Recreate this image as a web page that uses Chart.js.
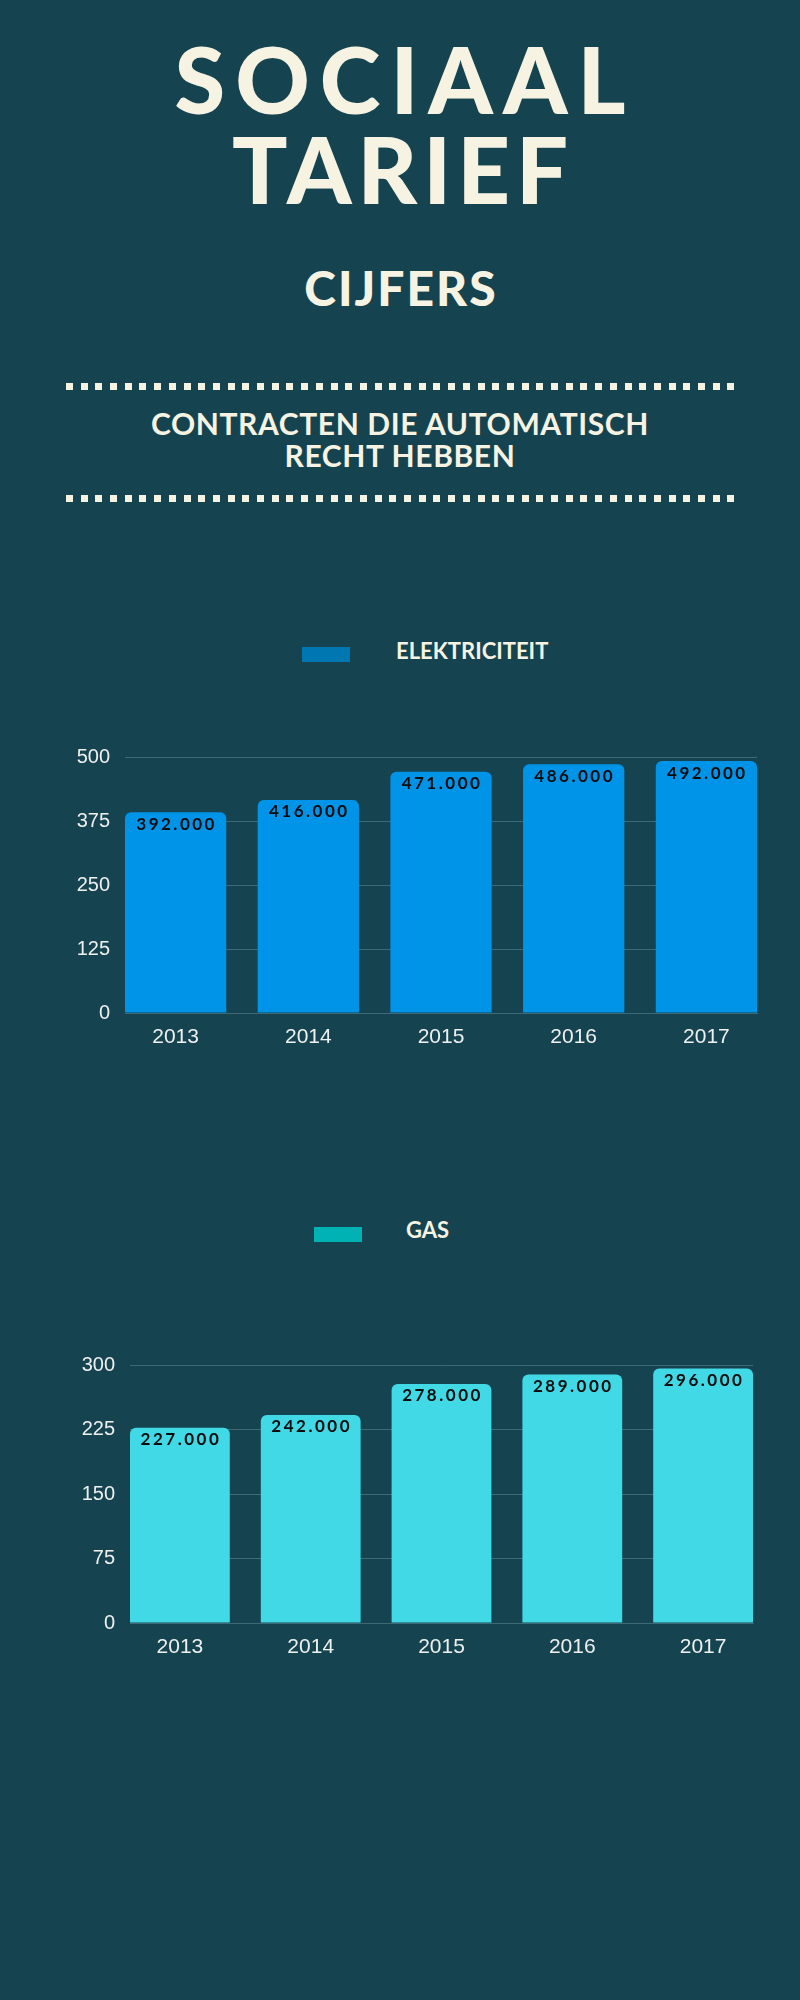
<!DOCTYPE html>
<html>
<head>
<meta charset="utf-8">
<script src="https://cdn.jsdelivr.net/npm/chart.js@4.4.1/dist/chart.umd.min.js"></script>
<style>
  html, body { margin: 0; padding: 0; }
  body { width: 800px; height: 2000px; background: #15434f; position: relative; overflow: hidden;
         font-family: Lato, "Noto Sans", sans-serif; color: #f7f3e3; }
  .t { position: absolute; left: 0; width: 800px; text-align: center; font-weight: 900; white-space: nowrap; }
  #title { top: 34px; font-size: 92px; line-height: 90px; }
  #title span { display: block; }
  #sub { top: 263px; font-size: 48px; line-height: 50px; letter-spacing: 2px; text-indent: 2px; }
  #head { top: 407px; font-size: 30px; line-height: 32px; letter-spacing: 0.6px; font-weight: 700; }
  .dots { position: absolute; left: 66px; width: 669px; height: 7px;
          background: repeating-linear-gradient(90deg, #f7f3e3 0 7px, transparent 7px 14.7px); }
  .legbox { position: absolute; width: 48px; height: 15px; }
  .legtxt { position: absolute; font-size: 22px; line-height: 23px; font-weight: 700; }
  .box { position: absolute; left: 0; width: 800px; }
</style>
</head>
<body>
<div id="title" class="t"><span style="letter-spacing:10px; text-indent:10px">SOCIAAL</span><span style="letter-spacing:6px; text-indent:6px">TARIEF</span></div>
<div id="sub" class="t">CIJFERS</div>
<div class="dots" style="top:383px"></div>
<div id="head" class="t">CONTRACTEN DIE AUTOMATISCH<br>RECHT HEBBEN</div>
<div class="dots" style="top:495px"></div>

<div class="legbox" style="left:302px; top:647px; background:#0077b1"></div>
<div class="legtxt" style="left:396px; top:639px">ELEKTRICITEIT</div>
<div class="box" style="top:740px; height:318px"><canvas id="elek"></canvas></div>

<div class="legbox" style="left:314px; top:1227px; background:#00b2b4"></div>
<div class="legtxt" style="left:406px; top:1218px">GAS</div>
<div class="box" style="top:1348px; height:320px"><canvas id="gas"></canvas></div>

<script>
const years = [2013, 2014, 2015, 2016, 2017];
const elektriciteit = [392, 416, 471, 486, 492];
const gas = [227, 242, 278, 289, 296];
const elekTicks = { max: 500, step: 125 };
const gasTicks = { max: 300, step: 75 };

const barFrac = 0.763;
const gridColor = '#3d6a76';

// value text inside the top of every bar
const valueLabels = {
  id: 'valueLabels',
  afterDatasetsDraw(chart) {
    const ctx = chart.ctx;
    const meta = chart.getDatasetMeta(0);
    const data = chart.data.datasets[0].data;
    ctx.save();
    ctx.fillStyle = '#0b0b0b';
    ctx.font = '700 17px Lato';
    ctx.letterSpacing = '2.5px';
    ctx.textAlign = 'center';
    ctx.textBaseline = 'middle';
    meta.data.forEach((bar, i) => {
      ctx.fillText(data[i] + '.000', bar.x + 1, bar.y + 12);
    });
    ctx.restore();
  }
};

function makeChart(id, values, color, ticks, yWidth, padRight) {
  new Chart(document.getElementById(id), {
    type: 'bar',
    data: {
      labels: years,
      datasets: [{
        data: values,
        backgroundColor: color,
        borderRadius: 6,
        barPercentage: barFrac,
        categoryPercentage: 1
      }]
    },
    options: {
      responsive: true,
      maintainAspectRatio: false,
      animation: false,
      layout: { padding: { top: 17, right: padRight, left: 0, bottom: 0 } },
      plugins: { legend: { display: false }, tooltip: { enabled: false } },
      scales: {
        x: {
          type: 'linear',
          min: years[0] - barFrac / 2,
          max: years[years.length - 1] + barFrac / 2,
          offset: false,
          afterBuildTicks: s => { s.ticks = years.map(v => ({ value: v })); },
          afterFit: s => { s.height = 45; s.paddingLeft = 0; s.paddingRight = 0; },
          grid: { display: false },
          border: { display: true, color: gridColor, width: 1 },
          ticks: {
            callback: v => String(v),
            color: '#eef0f0',
            font: { family: 'Liberation Sans', size: 21 },
            padding: 4,
            maxRotation: 0,
            autoSkip: false
          }
        },
        y: {
          min: 0,
          max: ticks.max,
          afterFit: s => { s.width = yWidth; s.paddingTop = 0; s.paddingBottom = 0; },
          grid: { color: gridColor, lineWidth: 1, drawTicks: false },
          border: { display: false },
          ticks: {
            stepSize: ticks.step,
            color: '#eef0f0',
            font: { family: 'Liberation Sans', size: 20 },
            padding: 15
          }
        }
      }
    },
    plugins: [valueLabels]
  });
}

makeChart('elek', elektriciteit, '#0094e8', elekTicks, 125, 43);
makeChart('gas', gas, '#42d9e6', gasTicks, 130, 47);
</script>
</body>
</html>
